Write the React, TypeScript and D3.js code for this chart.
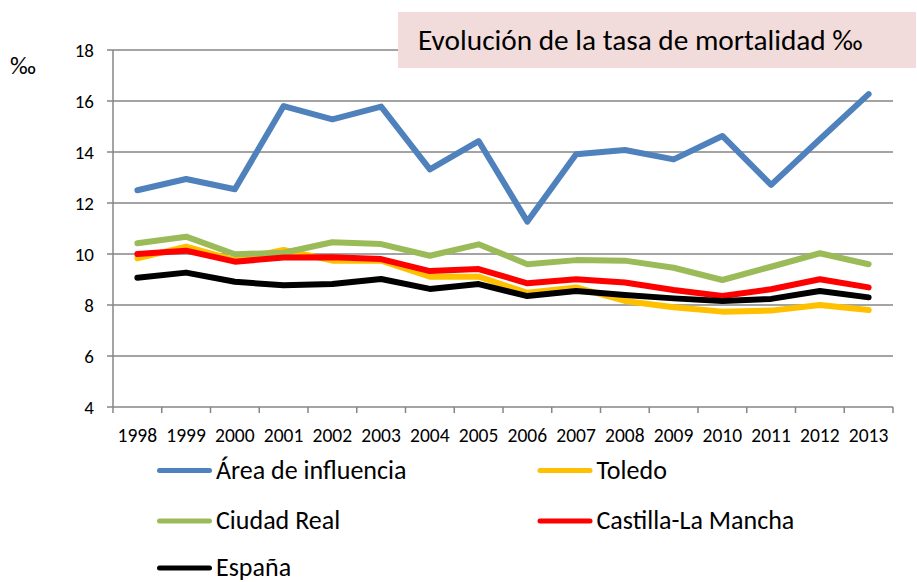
import React from 'react';
import * as d3 from 'd3';

const years = ['1998','1999','2000','2001','2002','2003','2004','2005','2006','2007','2008','2009','2010','2011','2012','2013'];
const yTicks = [4, 6, 8, 10, 12, 14, 16, 18];

const area = [12.5, 12.94, 12.54, 15.8, 15.28, 15.78, 13.32, 14.43, 11.27, 13.91, 14.08, 13.71, 14.63, 12.71, 14.5, 16.27];
const toledo = [9.83, 10.29, 9.76, 10.16, 9.74, 9.74, 9.11, 9.11, 8.48, 8.69, 8.16, 7.91, 7.74, 7.78, 8.0, 7.8];
const ciudadReal = [10.42, 10.68, 9.99, 10.05, 10.46, 10.39, 9.93, 10.38, 9.6, 9.76, 9.74, 9.46, 8.98, 9.5, 10.03, 9.6];
const clm = [10.0, 10.13, 9.7, 9.86, 9.87, 9.8, 9.33, 9.41, 8.85, 9.01, 8.88, 8.59, 8.35, 8.62, 9.01, 8.69];
const espana = [9.07, 9.27, 8.91, 8.77, 8.82, 9.02, 8.63, 8.82, 8.35, 8.55, 8.39, 8.26, 8.16, 8.24, 8.55, 8.3];

const seriesNames = ['Área de influencia', 'Toledo', 'Ciudad Real', 'Castilla-La Mancha', 'España'];
const seriesColors = ['#4F81BD', '#FFC000', '#9BBB59', '#FF0000', '#000000'];
const seriesValues = [area, toledo, ciudadReal, clm, espana];

const title = 'Evolución de la tasa de mortalidad ‰';
const unit = '‰';

const FONT = "Carlito, Calibri, Lato, 'Open Sans', sans-serif";

export default function App() {
  const W = 917, H = 582;
  const left = 113, right = 893, top = 50, bottom = 407;
  const x = d3.scaleBand<string>().domain(years).range([left, right]).padding(0);
  const y = d3.scaleLinear().domain([4, 18]).range([bottom, top]);
  const cx = (d: string) => (x(d) as number) + x.bandwidth() / 2;
  const line = d3.line<number>().x((_, i) => cx(years[i])).y((v) => y(v));
  const grid = '#868686';

  const legendPos = [
    { lx: 157, ly: 470.5, by: 479 },
    { lx: 537.5, ly: 470.5, by: 479 },
    { lx: 157, ly: 521, by: 529 },
    { lx: 537.5, ly: 521, by: 529 },
    { lx: 157, ly: 568, by: 575.5 },
  ];

  const boundaries = years.map((d) => x(d) as number).concat([right]);

  return (
    <svg width={W} height={H} style={{ position: 'absolute', left: 0, top: 0, background: '#fff' }} fontFamily={FONT}>
      <rect x={0} y={0} width={W} height={H} fill="#fff" />
      {yTicks.map((t) => (
        <g key={t}>
          <line x1={left - 6} x2={right} y1={y(t)} y2={y(t)} stroke={grid} strokeWidth={1.5} />
          <text x={94} y={y(t)} dy="0.35em" textAnchor="end" fontSize={19} fill="#000">{t}</text>
        </g>
      ))}
      <line x1={left} x2={left} y1={top} y2={bottom} stroke={grid} strokeWidth={1.5} />
      {boundaries.map((bx, i) => (
        <line key={i} x1={bx} x2={bx} y1={bottom} y2={bottom + 6} stroke={grid} strokeWidth={1.5} />
      ))}
      {years.map((d) => (
        <text key={d} x={cx(d)} y={441.5} textAnchor="middle" fontSize={19.5} fill="#000">{d}</text>
      ))}
      <text x={10} y={74} fontSize={25} fill="#000">{unit}</text>

      {seriesValues.map((vals, i) => (
        <path key={i} d={line(vals) || ''} fill="none" stroke={seriesColors[i]} strokeWidth={6} strokeLinejoin="round" strokeLinecap="round" />
      ))}

      <rect x={398} y={12} width={518} height={56} fill="#F2DCDB" />
      <text x={418} y={49.5} fontSize={29.3} fill="#000">{title}</text>

      {seriesNames.map((n, i) => (
        <g key={n}>
          <line x1={legendPos[i].lx + 2.5} x2={legendPos[i].lx + 52.5} y1={legendPos[i].ly} y2={legendPos[i].ly} stroke={seriesColors[i]} strokeWidth={5} strokeLinecap="round" />
          <text x={legendPos[i].lx + 59} y={legendPos[i].by} fontSize={26} fill="#000">{n}</text>
        </g>
      ))}
    </svg>
  );
}
